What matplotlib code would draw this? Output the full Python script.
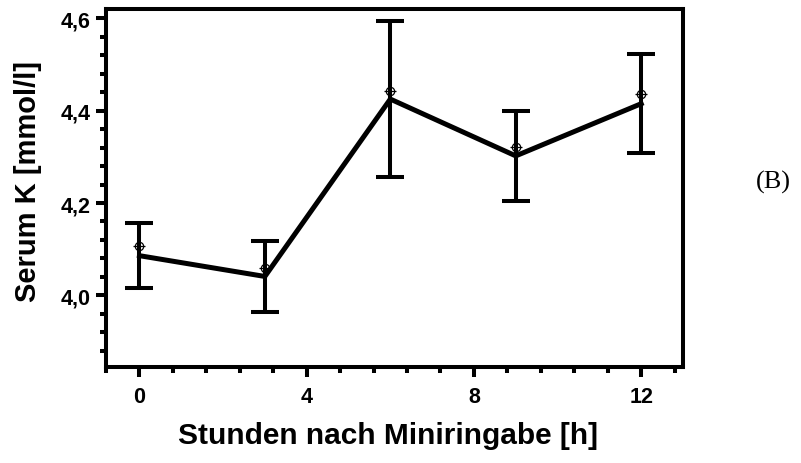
import matplotlib
matplotlib.use("Agg")
import matplotlib.pyplot as plt
from matplotlib.ticker import MultipleLocator, FuncFormatter

hours = [0, 3, 6, 9, 12]
mean_k = [4.086, 4.041, 4.425, 4.302, 4.415]
sem_k = [0.070, 0.076, 0.168, 0.097, 0.107]
median_k = [4.106, 4.060, 4.443, 4.322, 4.436]
xticks = [0, 4, 8, 12]
yticks = [4.0, 4.2, 4.4, 4.6]

plt.rcParams['font.family'] = ['Liberation Sans', 'DejaVu Sans']

fig = plt.figure(figsize=(8.01, 4.64), dpi=100)
ax = fig.add_axes([106/801, 1-368/464, (683-106)/801, (368-10)/464])

ax.errorbar(hours, mean_k, yerr=sem_k, color='black', lw=3.6, elinewidth=2.9,
            capsize=10, capthick=2.9, zorder=3)
ax.plot(hours, median_k, linestyle='none', marker='o', ms=6, mfc='none',
        mec='black', mew=0.9, zorder=4)
ax.plot(hours, median_k, linestyle='none', marker='+', ms=9, mec='black',
        mew=0.9, zorder=4)

ax.set_xlim(-0.8, 13.0)
ax.set_ylim(3.845, 4.62)
ax.set_xticks(xticks)
ax.set_yticks(yticks)
ax.xaxis.set_minor_locator(MultipleLocator(0.8))
ax.yaxis.set_minor_locator(MultipleLocator(0.04))
ax.yaxis.set_major_formatter(FuncFormatter(lambda v, p: f"{v:.1f}".replace('.', ',')))

for s in ax.spines.values():
    s.set_linewidth(2.9)
ax.tick_params(which='major', length=7, width=2.9, direction='out', labelsize=15.5, pad=4)
ax.tick_params(axis='x', which='major', pad=7)
ax.tick_params(which='minor', length=4, width=2.9, direction='out')
for lab in ax.get_xticklabels() + ax.get_yticklabels():
    lab.set_fontweight('bold')

ax.set_xlabel('Stunden nach Miniringabe [h]', fontsize=21.5, fontweight='bold')
ax.set_ylabel('Serum K [mmol/l]', fontsize=21, fontweight='bold')
ax.xaxis.set_label_coords((388 - 106) / 577, (368 - 422) / 358)
ax.yaxis.set_label_coords((42 - 106) / 577, (368 - 182) / 358)

fig.text(773/801, 1-182/464, '(B)', fontsize=19, family='Liberation Serif',
         ha='center', va='center')

fig.savefig('out.png', dpi=100)
